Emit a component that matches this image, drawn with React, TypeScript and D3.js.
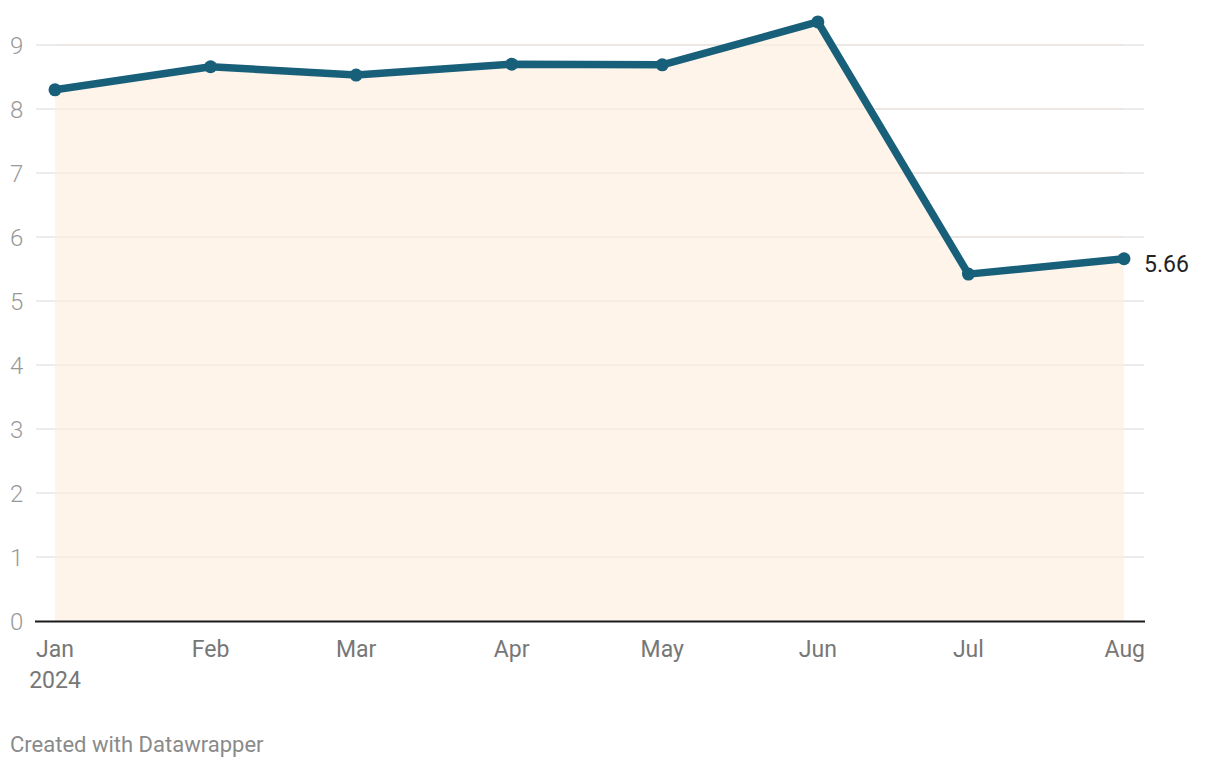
import React from "react";
import * as d3 from "d3";

const months = ["2024-01-01", "2024-02-01", "2024-03-01", "2024-04-01", "2024-05-01", "2024-06-01", "2024-07-01", "2024-08-01"];
const values = [8.3, 8.66, 8.53, 8.7, 8.69, 9.36, 5.42, 5.66];
const yTicks = [0, 1, 2, 3, 4, 5, 6, 7, 8, 9];
const xTickLabels = ["Jan", "Feb", "Mar", "Apr", "May", "Jun", "Jul", "Aug"];

const W = 1220;
const H = 768;
const FONT = "Roboto, 'Noto Sans', sans-serif";

export default function App() {
  const parse = d3.timeParse("%Y-%m-%d");
  const dates = months.map((m) => parse(m) as Date);
  const data = dates.map((d, i) => ({ date: d, value: values[i] }));

  const x = d3.scaleTime().domain([dates[0], dates[dates.length - 1]]).range([55, 1124]);
  const y = d3.scaleLinear().domain([0, 9]).range([621, 45]);

  const area = d3
    .area<{ date: Date; value: number }>()
    .x((d) => x(d.date))
    .y0(y(0))
    .y1((d) => y(d.value));
  const line = d3
    .line<{ date: Date; value: number }>()
    .x((d) => x(d.date))
    .y((d) => y(d.value));

  const last = data[data.length - 1];

  return (
    <svg
      width={W}
      height={H}
      style={{ position: "absolute", left: 0, top: 0, display: "block", background: "#fff" }}
      fontFamily={FONT}
    >
      {yTicks.map((t) =>
        t === 0 ? null : (
          <line key={"g" + t} x1={36} x2={1144} y1={y(t)} y2={y(t)} stroke="#e6e6e6" strokeWidth={1.5} />
        )
      )}
      <path d={area(data) || ""} fill="#fef4ea" />
      {yTicks.map((t) =>
        t === 0 ? null : (
          <line key={"g2" + t} x1={55} x2={1124} y1={y(t)} y2={y(t)} stroke="#ece3da" strokeWidth={1.5} opacity={0.6} />
        )
      )}
      {yTicks.map((t) => (
        <text key={"yt" + t} x={10} y={y(t) + 8.5} fontSize={24} fontWeight={300} fill="#999">
          {t}
        </text>
      ))}
      <line x1={35} x2={1145} y1={y(0) + 0.5} y2={y(0) + 0.5} stroke="#1a1a1a" strokeWidth={2} />
      <path d={line(data) || ""} fill="none" stroke="#18607a" strokeWidth={7.5} strokeLinejoin="round" strokeLinecap="round" />
      {data.map((d, i) => (
        <circle key={"c" + i} cx={x(d.date)} cy={y(d.value)} r={6.5} fill="#18607a" />
      ))}
      <text x={x(last.date) + 20} y={y(last.value) + 13} fontSize={23} fill="#222">
        {last.value.toFixed(2)}
      </text>
      {data.map((d, i) => (
        <text key={"xt" + i} x={i === data.length - 1 ? 1145 : x(d.date)} y={657} fontSize={23} fill="#777" textAnchor={i === data.length - 1 ? "end" : "middle"}>
          {xTickLabels[i]}
        </text>
      ))}
      <text x={x(dates[0])} y={688} fontSize={23} fill="#777" textAnchor="middle">
        2024
      </text>
      <text x={10} y={752} fontSize={22} fill="#8a8a8a">
        Created with Datawrapper
      </text>
    </svg>
  );
}
